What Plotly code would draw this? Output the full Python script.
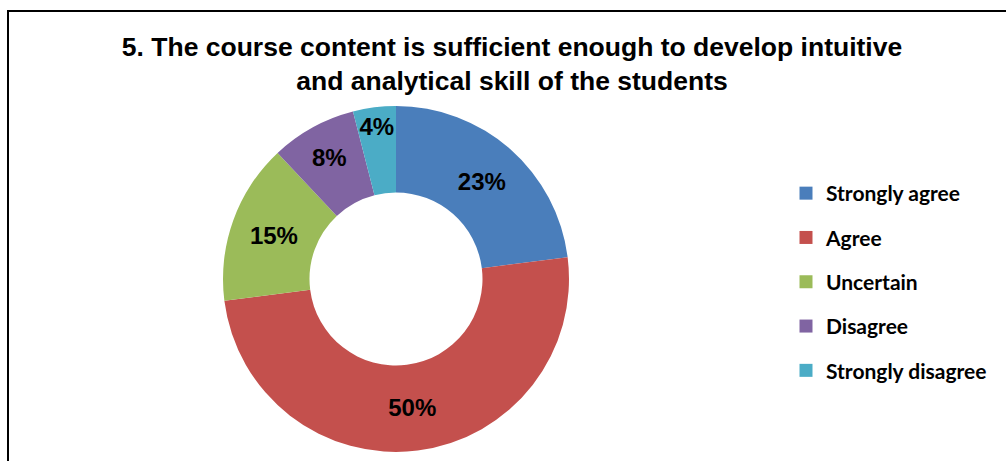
import plotly.graph_objects as go

categories = ["Strongly agree", "Agree", "Uncertain", "Disagree", "Strongly disagree"]
values = [23, 50, 15, 8, 4]
colors = ["#4A7EBB", "#C4504D", "#9BBB59", "#8064A2", "#4BACC6"]
title_text = "5. The course content is sufficient enough to develop intuitive<br>and analytical skill of the students"

W, H = 1006, 461
cx, cy, r = 396, 279, 173

fig = go.Figure()
fig.add_trace(go.Pie(
    labels=categories, values=values, hole=0.5, sort=False, direction="clockwise",
    rotation=0, marker=dict(colors=colors, line=dict(color="white", width=0)),
    textinfo="percent", texttemplate="%{percent:.0%}", textposition="inside",
    insidetextorientation="horizontal",
    textfont=dict(family="Liberation Sans, Arial", size=24, color="black", weight="bold"),
    domain=dict(x=[(cx - r) / W, (cx + r) / W], y=[1 - (cy + r) / H, 1 - (cy - r) / H]),
    showlegend=False, hoverinfo="label+percent",
))
for i, (c, col) in enumerate(zip(categories, colors)):
    fig.add_trace(go.Scatter(
        x=[None], y=[None], mode="markers", name=c, legendgroup=c,
        marker=dict(symbol="square", size=13, color=col), showlegend=True,
    ))

fig.update_layout(
    width=W, height=H, margin=dict(l=0, r=0, t=0, b=0),
    paper_bgcolor="white", plot_bgcolor="white",
    uniformtext=dict(minsize=24, mode="show"),
    xaxis=dict(visible=False), yaxis=dict(visible=False),
    title=dict(text=title_text, x=512 / W, xanchor="center", y=1 - 55.5 / H, yanchor="middle",
               font=dict(family="Liberation Sans, Arial", size=26.5, color="black", weight="bold")),
    legend=dict(x=786 / W, y=1 - 173 / H, xanchor="left", yanchor="top",
                font=dict(family="Lato, Calibri", size=21, color="black", weight="bold"),
                tracegroupgap=14, traceorder="grouped", bgcolor="rgba(0,0,0,0)"),
    shapes=[dict(type="rect", xref="paper", yref="paper", x0=8 / W, x1=1.02, y0=-0.02, y1=1 - 11 / H,
                 line=dict(color="black", width=2), fillcolor="rgba(0,0,0,0)", layer="above")],
)
fig.write_html("out.html")
